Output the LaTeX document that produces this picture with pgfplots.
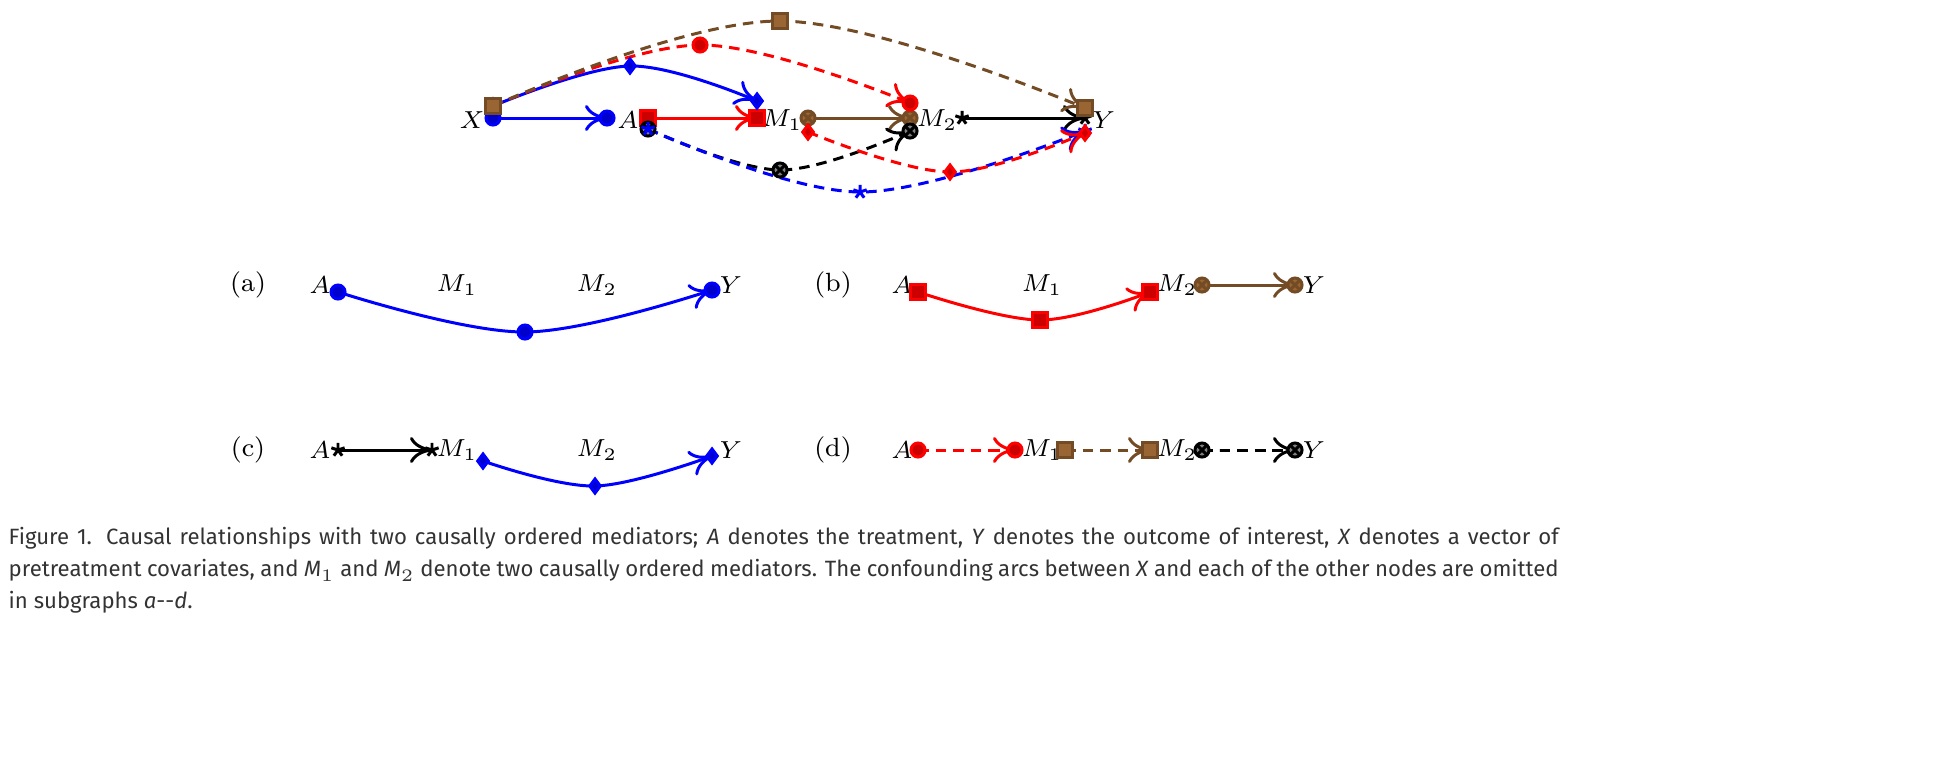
\documentclass[border=0pt]{standalone}
\usepackage{pgfplots}
\pgfplotsset{compat=1.18}
\usetikzlibrary{arrows.meta}
\usepackage{fontspec}
\newfontfamily\capfont{Fira Sans}
\begin{document}
\begin{tikzpicture}
\begin{axis}[scale only axis, width=19.34cm, height=7.66cm,
  xmin=0,xmax=1934,ymin=-766,ymax=0, hide axis, clip=false,
  every axis plot/.append style={line width=0.85pt, -{To[length=2.2mm,width=2.6mm]}, black, smooth, tension=0.6}]
\path (axis cs:0,0) rectangle (axis cs:1934,-766);
\tikzset{lab/.style={font=\fontsize{7.5}{8}\selectfont}}
% top row
\node[lab] at (axis cs:472,-120) {$X$};
\node[lab] at (axis cs:628,-120) {$A$};
\node[lab] at (axis cs:782,-120) {$M_1$};
\node[lab] at (axis cs:937,-120) {$M_2$};
\node[lab] at (axis cs:1104,-120) {$Y$};
\addplot coordinates {(493,-118) (607,-118)};
\addplot coordinates {(648,-118) (757,-118)};
\addplot coordinates {(808,-118) (910,-118)};
\addplot coordinates {(962,-118) (1085,-118)};
\addplot coordinates {(493,-106) (630,-66) (757,-101)};
\addplot coordinates {(493,-106) (700,-45) (910,-103)};
\addplot coordinates {(493,-106) (780,-21) (1085,-108)};
\addplot coordinates {(648,-129) (780,-170) (910,-131)};
\addplot coordinates {(648,-129) (860,-192) (1085,-131)};
\addplot coordinates {(808,-132) (950,-172) (1085,-133)};
% (a)
\node[lab] at (axis cs:248,-285) {(a)};
\node[lab] at (axis cs:320,-285) {$A$};
\node[lab] at (axis cs:457,-285) {$M_1$};
\node[lab] at (axis cs:597,-285) {$M_2$};
\node[lab] at (axis cs:731,-285) {$Y$};
\addplot coordinates {(338,-292) (525,-332) (712,-290)};
% (b)
\node[lab] at (axis cs:833,-285) {(b)};
\node[lab] at (axis cs:902,-285) {$A$};
\node[lab] at (axis cs:1042,-285) {$M_1$};
\node[lab] at (axis cs:1177,-285) {$M_2$};
\node[lab] at (axis cs:1314,-285) {$Y$};
\addplot coordinates {(918,-292) (1040,-320) (1150,-292)};
\addplot coordinates {(1202,-285) (1295,-285)};
% (c)
\node[lab] at (axis cs:248,-450) {(c)};
\node[lab] at (axis cs:320,-450) {$A$};
\node[lab] at (axis cs:457,-450) {$M_1$};
\node[lab] at (axis cs:597,-450) {$M_2$};
\node[lab] at (axis cs:731,-450) {$Y$};
\addplot coordinates {(338,-450) (432,-450)};
\addplot coordinates {(483,-461) (595,-486) (712,-456)};
% (d)
\node[lab] at (axis cs:833,-450) {(d)};
\node[lab] at (axis cs:902,-450) {$A$};
\node[lab] at (axis cs:1042,-450) {$M_1$};
\node[lab] at (axis cs:1177,-450) {$M_2$};
\node[lab] at (axis cs:1314,-450) {$Y$};
\addplot coordinates {(918,-450) (1015,-450)};
\addplot coordinates {(1065,-450) (1150,-450)};
\addplot coordinates {(1202,-450) (1295,-450)};
% caption
\node[anchor=north west, inner sep=0pt, text width=15.5cm, align=justify,
  font=\capfont\fontsize{6.3}{9.1}\selectfont, text=black!80]
  at (axis cs:8,-527) {Figure 1. Causal relationships with two causally ordered mediators; \textit{A} denotes the treatment, \textit{Y} denotes the outcome of interest, \textit{X} denotes a vector of pretreatment covariates, and \textit{M}$_1$ and \textit{M}$_2$ denote two causally ordered mediators. The confounding arcs between \textit{X} and each of the other nodes are omitted in subgraphs \textit{a}--\textit{d}.};
\end{axis}
\end{tikzpicture}
\end{document}
